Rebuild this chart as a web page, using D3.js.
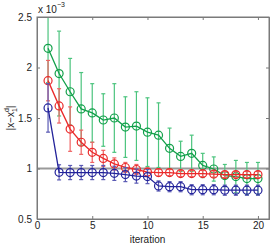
<!DOCTYPE html>
<html><head><meta charset="utf-8">
<script src="https://cdn.jsdelivr.net/npm/d3@7"></script>
<style>body{margin:0;background:#fff}svg{display:block;font-family:"Liberation Sans",Arial,sans-serif}</style>
</head><body><svg id="c" width="273" height="245"></svg>
<script>
const iterations = d3.range(1, 21);
const greenVals = [2.19,1.94,1.76,1.59,1.55,1.48,1.50,1.41,1.42,1.36,1.33,1.20,1.12,1.15,1.03,0.995,0.93,0.92,0.90,0.90];
const greenErr  = [0.34,0.42,0.33,0.36,0.29,0.26,0.34,0.30,0.34,0.34,0.32,0.20,0.15,0.18,0.12,0.12,0.11,0.16,0.16,0.16];
const redVals   = [1.87,1.62,1.39,1.26,1.16,1.10,1.045,1.01,0.99,0.965,0.96,0.96,0.95,0.95,0.95,0.945,0.94,0.94,0.94,0.94];
const redErr    = [0.20,0.17,0.22,0.12,0.10,0.08,0.06,0.05,0.05,0.04,0.035,0.03,0.03,0.03,0.03,0.03,0.03,0.03,0.03,0.03];
const blueVals  = [1.60,0.962,0.96,0.96,0.96,0.96,0.952,0.94,0.925,0.92,0.827,0.82,0.82,0.79,0.79,0.79,0.785,0.785,0.785,0.785];
const blueErr   = [0.24,0.075,0.07,0.07,0.07,0.07,0.07,0.07,0.07,0.07,0.05,0.05,0.05,0.05,0.05,0.05,0.05,0.05,0.05,0.05];
const xTicks = [0,5,10,15,20];
const yTicks = [0.5,1,1.5,2,2.5];
const refValue = 1;

const svg = d3.select("#c");
const L=37,R=269,T=17,B=219;
const x = d3.scaleLinear().domain([0,21]).range([L,R]);
const y = d3.scaleLinear().domain([0.5,2.5]).range([B,T]);

svg.append("defs").append("clipPath").attr("id","clip")
  .append("rect").attr("x",L).attr("y",T).attr("width",R-L).attr("height",B-T);

// reference line
svg.append("line").attr("x1",L).attr("x2",R).attr("y1",y(refValue)).attr("y2",y(refValue))
  .attr("stroke","#9a9a9a").attr("stroke-width",2);

const series = [
  {vals:greenVals, err:greenErr, line:"#12a04a", bar:"#4cc47e"},
  {vals:redVals, err:redErr, line:"#ea2a2a", bar:"#ef6262"},
  {vals:blueVals, err:blueErr, line:"#23239a", bar:"#5a5ab4"}
];
const g = svg.append("g").attr("clip-path","url(#clip)");
series.forEach(s=>{
  const data = iterations.map((it,i)=>({it, v:s.vals[i], e:s.err[i]}));
  const eb = g.append("g").attr("stroke",s.bar).attr("stroke-width",1.2);
  data.forEach(d=>{
    eb.append("line").attr("x1",x(d.it)).attr("x2",x(d.it)).attr("y1",y(d.v-d.e)).attr("y2",y(d.v+d.e));
    [d.v-d.e,d.v+d.e].forEach(vv=>eb.append("line").attr("x1",x(d.it)-2).attr("x2",x(d.it)+2).attr("y1",y(vv)).attr("y2",y(vv)));
  });
  g.append("path").datum(data).attr("fill","none").attr("stroke",s.line).attr("stroke-width",1.3)
    .attr("d",d3.line().x(d=>x(d.it)).y(d=>y(d.v)));
  g.selectAll(null).data(data).enter().append("circle")
    .attr("cx",d=>x(d.it)).attr("cy",d=>y(d.v)).attr("r",4)
    .attr("fill","none").attr("stroke",s.line).attr("stroke-width",1.2);
});

// box
const ax = "#7a7a7a";
svg.append("rect").attr("x",L).attr("y",T).attr("width",R-L).attr("height",B-T)
  .attr("fill","none").attr("stroke",ax).attr("stroke-width",1);

// axes ticks inward
const xb = svg.append("g").attr("transform",`translate(0,${B})`)
  .call(d3.axisBottom(x).tickValues(xTicks).tickSize(-3).tickPadding(3).tickFormat(d3.format("d")));
const xt = svg.append("g").attr("transform",`translate(0,${T})`)
  .call(d3.axisTop(x).tickValues(xTicks).tickSize(-3).tickFormat(""));
const yl = svg.append("g").attr("transform",`translate(${L},0)`)
  .call(d3.axisLeft(y).tickValues(yTicks).tickSize(-3).tickPadding(5).tickFormat(d=>String(d)));
const yr = svg.append("g").attr("transform",`translate(${R},0)`)
  .call(d3.axisRight(y).tickValues(yTicks).tickSize(-3).tickFormat(""));
[xb,xt,yl,yr].forEach(a=>{
  a.select(".domain").attr("stroke",ax);
  a.selectAll(".tick line").attr("stroke",ax);
  a.selectAll("text").attr("fill","#222").style("font-size","10px").style("font-family","'Liberation Sans',Arial,sans-serif");
});

// exponent label
const ex = svg.append("text").attr("x",38).attr("y",13).attr("fill","#222").style("font-size","10px");
ex.append("tspan").text("x 10");
ex.append("tspan").attr("dy",-6).style("font-size","7px").text("\u22123");

// x label
svg.append("text").attr("x",x(10)).attr("y",243).attr("text-anchor","middle")
  .attr("fill","#222").style("font-size","10px").text("iteration");

// y label
const ylab = svg.append("text").attr("transform","translate(14,118) rotate(-90)")
  .attr("text-anchor","middle").attr("fill","#222").style("font-size","10px");
ylab.append("tspan").text("|x\u2212x");
ylab.append("tspan").attr("dy",3).style("font-size","7px").text("1");
ylab.append("tspan").attr("dx",-4).attr("dy",-8).style("font-size","7px").text("d");
ylab.append("tspan").attr("dy",5).text("|");
</script></body></html>
